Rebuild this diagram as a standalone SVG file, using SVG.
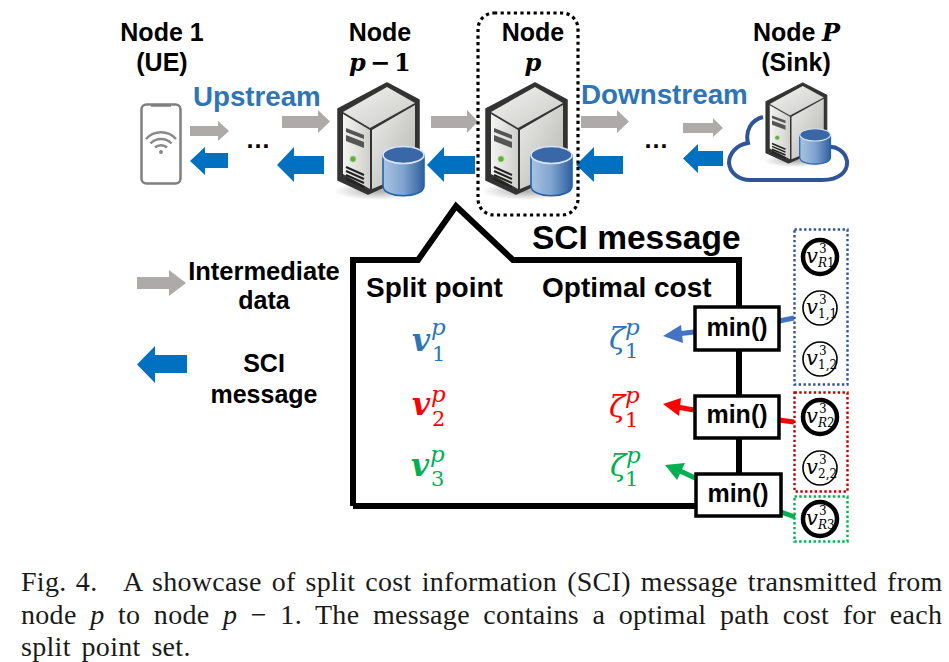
<svg xmlns="http://www.w3.org/2000/svg" width="949" height="662" viewBox="0 0 949 662">
<style>
text{font-family:"Liberation Sans",Arial,sans-serif;fill:#000}
.b{font-weight:700}
.m{text-anchor:middle}
.t25{font-size:25px}
.t28{font-size:28px}
.blue{fill:#2e75b6}
.gray{fill:#aeaaaa}
.sci{fill:#0070c0}
.mi{font-family:"DejaVu Serif","Liberation Serif",serif;font-style:italic}
.mbi{font-family:"DejaVu Serif","Liberation Serif",serif;font-style:italic;font-weight:700}
.mr{font-family:"DejaVu Serif","Liberation Serif",serif}
.cap{font-family:"Liberation Serif","Times New Roman",serif;font-size:28px;letter-spacing:.3px;fill:#1a1a1a}
.cv{font-family:"DejaVu Serif",serif;font-style:italic;font-size:21px}
.cs{font-family:"DejaVu Serif",serif;font-size:12px}
.ci{font-style:italic}
.node{fill:#fff;stroke:#000}
.thin{stroke-width:1.6px}
.thick{stroke-width:4.5px}
.box{fill:#fff;stroke:#000;stroke-width:3.5px}
.grp{fill:none;stroke-width:2.4px;stroke-dasharray:2.4 2.4}
</style>
<defs>
<linearGradient id="fr" x1="0" y1="0" x2="1" y2="0"><stop offset="0" stop-color="#f4f4f2"/><stop offset="1" stop-color="#cfd0cb"/></linearGradient>
<linearGradient id="sd" x1="0" y1="0" x2="1" y2="1"><stop offset="0" stop-color="#ececea"/><stop offset="1" stop-color="#b4b5b0"/></linearGradient>
<linearGradient id="tp" x1="0" y1="0" x2="1" y2="1"><stop offset="0" stop-color="#f3f3f1"/><stop offset="1" stop-color="#c9cac6"/></linearGradient>
<linearGradient id="cyl" x1="0" y1="0" x2="1" y2="0"><stop offset="0" stop-color="#a9c4e2"/><stop offset=".5" stop-color="#7ea3cf"/><stop offset="1" stop-color="#315f9f"/></linearGradient>
<radialGradient id="sh"><stop offset="0" stop-color="#777" stop-opacity=".6"/><stop offset="1" stop-color="#777" stop-opacity="0"/></radialGradient>
<g id="server">
<ellipse cx="40" cy="108" rx="44" ry="9" fill="url(#sh)"/>
<path d="M49,0 L81,17 V88 L30,111 L0,97 V26 Z" fill="#333" stroke="#333" stroke-width="1.500" stroke-linejoin="round"/>
<path d="M5,31 L32,47 V106 L5,91 Z" fill="url(#fr)"/>
<path d="M5,29 L49,4 L77,20 L32,45 Z" fill="url(#tp)"/>
<path d="M34,47 L77,22 V88 L34,106 Z" fill="url(#sd)"/>
<path d="M8,45 L26,52 V56 L8,49 Z M8,52 L26,59 V65 L8,58 Z" fill="#555"/>
<circle cx="15" cy="76" r="3.200" fill="#5fae3a" stroke="#cfe6c0" stroke-width=".8"/>
<path d="M8,84 L26,92 M8,88 L26,96 M8,92 L26,100 M8,96 L26,104" stroke="#222" stroke-width="2"/>
<path d="M45,72 V103 C45,116 86,116 86,103 V72 Z" fill="url(#cyl)" stroke="#1f62ae" stroke-width="1.600"/>
<ellipse cx="65.500" cy="72" rx="20.500" ry="8.500" fill="#3a67a8" stroke="#dbe6f3" stroke-width="1.600"/>
</g>
</defs>

<g id="connectors">
<polygon class="gray" points="190,126 218,126 218,121 229,131 218,141 218,136 190,136"/>
<polygon class="gray" points="282,116 318,116 318,110 330,121.500 318,133 318,128 282,128"/>
<polygon class="gray" points="431,116 467,116 467,110 478,121.500 467,133 467,128 431,128"/>
<polygon class="gray" points="581,116 617,116 617,110 629,121.500 617,133 617,128 581,128"/>
<polygon class="gray" points="683,123 713,123 713,118 723,128 713,137 713,133 683,133"/>
<polygon class="sci" points="228,153 205,153 205,147 190,161 205,175 205,168 228,168"/>
<polygon class="sci" points="324,156 294,156 294,147 277,165 294,182 294,174 324,174"/>
<polygon class="sci" points="475,156 444,156 444,147 427,165 444,182 444,174 475,174"/>
<polygon class="sci" points="623,156 594,156 594,147 576,165 594,182 594,174 623,174"/>
<polygon class="sci" points="723,151 698,151 698,144 683,158.500 698,173 698,166 723,166"/>
<polygon class="gray" points="137,277 169,277 169,270 186,283 169,296 169,289 137,289"/>
<polygon class="sci" points="187,355 155,355 155,346 137,364.500 155,383 155,373 187,373"/>
<path d="M794,318 L779,321" stroke="#4472c4" stroke-width="5" fill="none"/>
<path d="M794,422 L779,420" stroke="#ff0000" stroke-width="5" fill="none"/>
<path d="M795,517 L781,512" stroke="#00b050" stroke-width="5" fill="none"/>
<path d="M694,332 L677,334" stroke="#4472c4" stroke-width="5" fill="none"/>
<polygon points="663,336 681,325 683,343" fill="#4472c4"/>
<path d="M694,410 L677,407" stroke="#ff0000" stroke-width="5" fill="none"/>
<polygon points="663,404 681,398 679,416" fill="#ff0000"/>
<path d="M695,478 L678,470" stroke="#00b050" stroke-width="5" fill="none"/>
<polygon points="665,465 685,463 677,480" fill="#00b050"/>
</g>

<g id="node-1">
<text class="b t25 m" x="162" y="41">Node 1</text>
<text class="b t25 m" x="162" y="71">(UE)</text>
<rect x="141.500" y="104.500" width="39" height="79" rx="5" fill="#fff" stroke="#7f7f7f" stroke-width="2.500"/>
<path d="M151,105.500 H171" stroke="#7f7f7f" stroke-width="2.500"/>
<path d="M146,139 C154,130 168,130 176,139 M150.500,143.500 C156,137.500 166,137.500 171.500,143.500 M155,147.500 C158,144.500 164,144.500 167,147.500" fill="none" stroke="#8a8a8a" stroke-width="2.500"/>
<circle cx="161" cy="152" r="2" fill="#8a8a8a"/>
</g>

<g id="node-p-minus-1">
<text class="b t25 m" x="380" y="41">Node</text>
<text class="mbi" font-size="24" x="349" y="71">p</text>
<text class="mr" font-weight="700" font-size="24" x="370" y="71">−</text>
<text class="mr" font-weight="700" font-size="24" x="394" y="71">1</text>
<use href="#server" x="338" y="83"/>
</g>

<g id="node-p">
<use href="#server" x="486" y="83"/>
<rect x="478" y="13" width="100" height="202" rx="16" fill="none" stroke="#000" stroke-width="3.200" stroke-dasharray="3.200 3.400"/>
<text class="b t25 m" x="533" y="41">Node</text>
<text class="mbi m" font-size="24" x="533" y="71">p</text>
</g>

<g id="node-sink">
<text class="b t25" x="753" y="41">Node</text>
<text class="mbi" font-size="24" x="822" y="41">P</text>
<text class="b t25 m" x="796" y="71">(Sink)</text>
<path d="M763,117 C751,120 745,131 748,143 C736,145 729,154 729,163 C730,174 740,180 750,180 H822 C840,180 848,171 847,161 C845,151 836,146 828,147" fill="none" stroke="#2f5597" stroke-width="4"/>
<use href="#server" transform="translate(766,83) scale(.75,.72)"/>
</g>

<text class="b m" x="258" y="148" font-size="25">…</text>
<text class="b m" x="656" y="148" font-size="25">…</text>
<text class="b blue" x="193" y="106" style="font-size:27.700px">Upstream</text>
<text class="b blue" x="581" y="104" style="font-size:27.800px">Downstream</text>

<g id="legend">
<text class="b m" x="264" y="280" style="font-size:25.500px">Intermediate</text>
<text class="b m" x="264" y="309" style="font-size:25px">data</text>
<text class="b m" x="264" y="372" style="font-size:25px">SCI</text>
<text class="b m" x="264" y="403" style="font-size:25px">message</text>
</g>

<g id="sci-message">
<path d="M353,506 V260 H418 L456,206 L513,260 H739 V475 M353,506 H696" fill="none" stroke="#000" stroke-width="6"/>
<text class="b" x="532" y="249" style="font-size:33.500px">SCI message</text>
<text class="b t28" x="366" y="297">Split point</text>
<text class="b t28" x="542" y="297">Optimal cost</text>
<text class="mbi" x="412" y="351" font-size="31" style="fill:#2e75b6">v</text>
<text class="mi" x="431" y="335" font-size="23" style="fill:#2e75b6">p</text>
<text class="mr" x="432" y="361" font-size="21" style="fill:#2e75b6">1</text>
<text class="mbi" x="412" y="415" font-size="31" style="fill:#ff0000">v</text>
<text class="mi" x="431" y="402" font-size="23" style="fill:#ff0000">p</text>
<text class="mr" x="432" y="426" font-size="21" style="fill:#ff0000">2</text>
<text class="mbi" x="411" y="476" font-size="31" style="fill:#00b050">v</text>
<text class="mi" x="430" y="462" font-size="23" style="fill:#00b050">p</text>
<text class="mr" x="431" y="486" font-size="21" style="fill:#00b050">3</text>
<text class="mi" x="609" y="349" font-size="30" style="fill:#2e75b6">ζ</text>
<text class="mi" x="625" y="335" font-size="23" style="fill:#2e75b6">p</text>
<text class="mr" x="625" y="358" font-size="21" style="fill:#2e75b6">1</text>
<text class="mi" x="609" y="417" font-size="30" style="fill:#ff0000">ζ</text>
<text class="mi" x="625" y="403" font-size="23" style="fill:#ff0000">p</text>
<text class="mr" x="625" y="427" font-size="21" style="fill:#ff0000">1</text>
<text class="mi" x="610" y="476" font-size="30" style="fill:#00b050">ζ</text>
<text class="mi" x="626" y="463" font-size="23" style="fill:#00b050">p</text>
<text class="mr" x="625" y="486" font-size="21" style="fill:#00b050">1</text>
</g>

<g id="min-1"><rect class="box" x="695" y="307" width="84" height="43"/><text class="b t25 m" x="737" y="336">min()</text></g>
<g id="min-2"><rect class="box" x="695" y="396" width="84" height="42"/><text class="b t25 m" x="737" y="423">min()</text></g>
<g id="min-3"><rect class="box" x="696" y="474" width="85" height="42"/><text class="b t25 m" x="738" y="502">min()</text></g>

<g id="set-1">
<rect class="grp" x="794.500" y="229.500" width="53" height="155" stroke="#2f5597"/>
<g id="v-r1"><circle class="node thick" cx="820" cy="257" r="17"/><text class="cv" x="806" y="263">v</text><text class="cs" x="819" y="253">3</text><text class="cs" x="818" y="267"><tspan class="ci">R</tspan>1</text></g>
<g id="v-11"><circle class="node thin" cx="820" cy="308" r="17"/><text class="cv" x="806" y="314">v</text><text class="cs" x="819" y="304">3</text><text class="cs" x="818" y="318">1,1</text></g>
<g id="v-12"><circle class="node thin" cx="820" cy="359" r="17"/><text class="cv" x="806" y="365">v</text><text class="cs" x="819" y="355">3</text><text class="cs" x="818" y="369">1,2</text></g>
</g>
<g id="set-2">
<rect class="grp" x="794.500" y="392.500" width="53" height="99" stroke="#c00000"/>
<g id="v-r2"><circle class="node thick" cx="820" cy="417" r="17"/><text class="cv" x="806" y="423">v</text><text class="cs" x="819" y="413">3</text><text class="cs" x="818" y="427"><tspan class="ci">R</tspan>2</text></g>
<g id="v-22"><circle class="node thin" cx="820" cy="468" r="17"/><text class="cv" x="806" y="474">v</text><text class="cs" x="819" y="464">3</text><text class="cs" x="818" y="478">2,2</text></g>
</g>
<g id="set-3">
<rect class="grp" x="794.500" y="496.500" width="53" height="45" stroke="#00b050"/>
<g id="v-r3"><circle class="node thick" cx="820" cy="519" r="17"/><text class="cv" x="806" y="525">v</text><text class="cs" x="819" y="515">3</text><text class="cs" x="818" y="529"><tspan class="ci">R</tspan>3</text></g>
</g>

<g id="caption">
<text class="cap" x="21" y="591" word-spacing="2">Fig. 4.</text>
<text class="cap" x="123" y="591" word-spacing="2.700">A showcase of split cost information (SCI) message transmitted from</text>
<text class="cap" x="21" y="624" word-spacing="6.200">node <tspan font-style="italic">p</tspan> to node <tspan font-style="italic">p</tspan> − 1. The message contains a optimal path cost for each</text>
<text class="cap" x="21" y="656" word-spacing="3.500">split point set.</text>
</g>
</svg>
